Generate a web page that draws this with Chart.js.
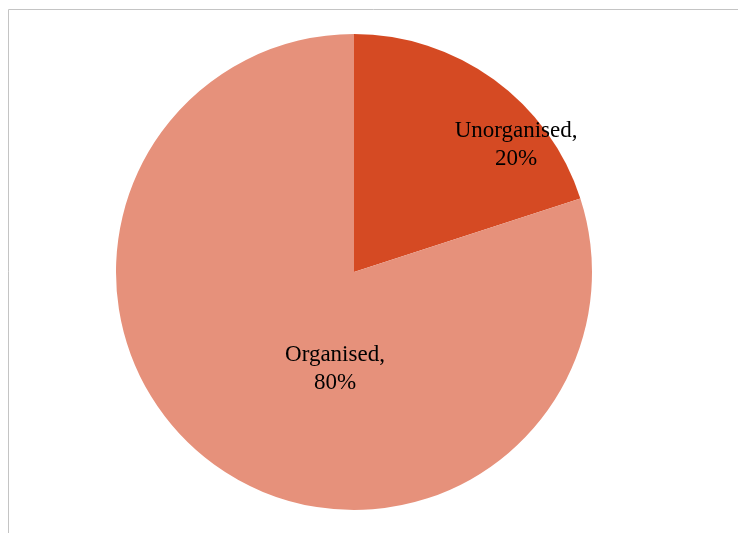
<!DOCTYPE html>
<html>
<head>
<meta charset="utf-8">
<script src="https://cdn.jsdelivr.net/npm/chart.js@4"></script>
<style>
  body { margin: 0; background: #fff; }
  canvas { display: block; }
</style>
</head>
<body>
<canvas id="chart" width="738" height="533"></canvas>
<script>
// data
const categories = ['Unorganised', 'Organised'];
const shares = [20, 80];
const sliceColors = ['#D54A23', '#E6917B'];
// label anchor, as a fraction of the radius from the pie centre (Excel best fit)
const labelOffsets = [[0.681, -0.538], [-0.08, 0.405]];

// frame line on the left and top, like the chart area border in the source
const framePlugin = {
    id: 'frame',
    beforeDraw(chart) {
        const ctx = chart.ctx;
        ctx.save();
        ctx.strokeStyle = '#c4c4c4';
        ctx.lineWidth = 1;
        ctx.beginPath();
        ctx.moveTo(8.5, chart.height);
        ctx.lineTo(8.5, 9.5);
        ctx.lineTo(chart.width, 9.5);
        ctx.stroke();
        ctx.restore();
    }
};

// "Name,\nNN%" labels drawn inside the slices
const sliceLabels = {
    id: 'sliceLabels',
    afterDatasetsDraw(chart) {
        const ctx = chart.ctx;
        const meta = chart.getDatasetMeta(0);
        ctx.save();
        ctx.font = '23px "Liberation Serif", "Times New Roman", serif';
        ctx.fillStyle = '#000';
        ctx.textAlign = 'center';
        ctx.textBaseline = 'alphabetic';
        meta.data.forEach((arc, i) => {
            const r = arc.outerRadius;
            const x = arc.x + labelOffsets[i][0] * r;
            const y = arc.y + labelOffsets[i][1] * r;
            ctx.fillText(categories[i] + ',', x, y - 7);
            ctx.fillText(shares[i] + '%', x, y + 21);
        });
        ctx.restore();
    }
};

new Chart(document.getElementById('chart'), {
    type: 'pie',
    data: {
        labels: categories,
        datasets: [{
            data: shares,
            backgroundColor: sliceColors,
            borderWidth: 0
        }]
    },
    options: {
        responsive: false,
        animation: false,
        layout: { padding: { left: 116, right: 146, top: 34, bottom: 23 } },
        plugins: {
            legend: { display: false },
            tooltip: { enabled: false }
        }
    },
    plugins: [framePlugin, sliceLabels]
});
</script>
</body>
</html>
